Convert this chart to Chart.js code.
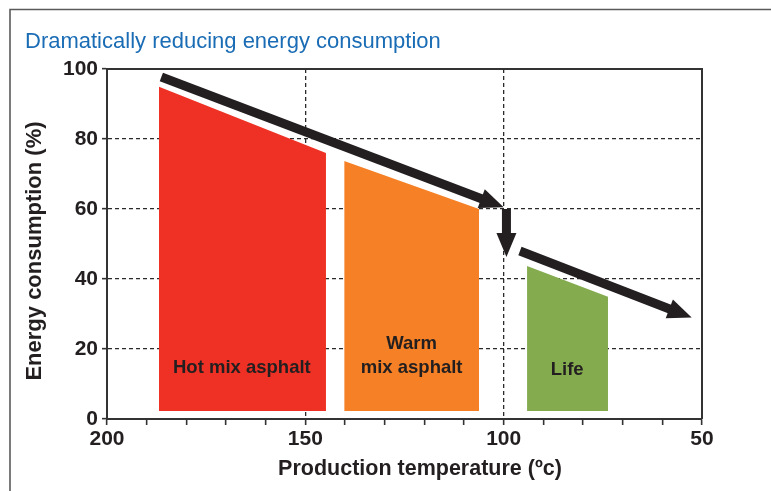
<!DOCTYPE html>
<html><head><meta charset="utf-8">
<script src="https://cdn.jsdelivr.net/npm/chart.js@4/dist/chart.umd.min.js"></script>
<style>html,body{margin:0;padding:0;background:#fff;overflow:hidden}canvas{display:block}</style>
</head><body><canvas id="c" width="771" height="491"></canvas>
<script>
// ---- data ----
const titleText = 'Dramatically reducing energy consumption';
const xTitle = 'Production temperature (ºc)';
const yTitle = 'Energy consumption (%)';
const xLabelTicks = [200, 150, 100, 50];
const categories = [['Hot mix asphalt'], ['Warm', 'mix asphalt'], ['Life']];
const hotMix = [{x: 186.9, y: 94.9}, {x: 144.8, y: 76}];
const warmMix = [{x: 140.2, y: 73.7}, {x: 106.2, y: 60}];
const life = [{x: 94.1, y: 43.7}, {x: 73.7, y: 34.9}];
const baseValue = 2.3;
const arrow1 = [{x: 186.3, y: 97.7}, {x: 100, y: 60.5}];
const arrow2 = [{x: 99.3, y: 60}, {x: 99.3, y: 46.3}];
const arrow3 = [{x: 95.9, y: 48}, {x: 52.6, y: 29}];
const labelPos = [{x: 166, y: 13.1}, {x: 123.2, y: 13.1}, {x: 84, y: 12.6}];
const seriesColors = ['#ee3124', '#f58025', '#84ac4f'];

const ink = '#231f20';
const FONT = '"Liberation Sans", Arial, Helvetica, sans-serif';

function drawArrow(ctx, x, y, pts) {
  const x0 = x.getPixelForValue(pts[0].x), y0 = y.getPixelForValue(pts[0].y);
  const x1 = x.getPixelForValue(pts[1].x), y1 = y.getPixelForValue(pts[1].y);
  const dx = x1 - x0, dy = y1 - y0, len = Math.hypot(dx, dy);
  const ux = dx / len, uy = dy / len, nx = -uy, ny = ux;
  const L = 24, W = 10, S = 4.5;
  const bx = x1 - ux * L, by = y1 - uy * L;
  ctx.fillStyle = ink;
  ctx.beginPath();
  ctx.moveTo(x0 + nx * S, y0 + ny * S);
  ctx.lineTo(bx + ux + nx * S, by + uy + ny * S);
  ctx.lineTo(bx + ux - nx * S, by + uy - ny * S);
  ctx.lineTo(x0 - nx * S, y0 - ny * S);
  ctx.closePath();
  ctx.fill();
  ctx.beginPath();
  ctx.moveTo(x1, y1);
  ctx.lineTo(bx + nx * W, by + ny * W);
  ctx.lineTo(bx - nx * W, by - ny * W);
  ctx.closePath();
  ctx.fill();
}

const deco = {
  id: 'deco',
  beforeDraw(chart) {
    const ctx = chart.ctx;
    ctx.save();
    ctx.fillStyle = '#fff';
    ctx.fillRect(0, 0, chart.width, chart.height);
    ctx.strokeStyle = '#5a5a5a';
    ctx.lineWidth = 1.6;
    ctx.beginPath();
    ctx.moveTo(10, 491); ctx.lineTo(10, 9.5); ctx.lineTo(771, 9.5);
    ctx.stroke();
    ctx.font = '22px ' + FONT;
    ctx.fillStyle = '#1a6cb5';
    ctx.textBaseline = 'alphabetic';
    ctx.textAlign = 'left';
    ctx.fillText(titleText, 25, 48);
    // axis titles
    ctx.fillStyle = ink;
    ctx.textAlign = 'center';
    ctx.font = 'bold 21.5px ' + FONT;
    ctx.fillText(xTitle, 420, 475);
    ctx.translate(35, 251);
    ctx.rotate(-Math.PI / 2);
    ctx.font = 'bold 22px ' + FONT;
    ctx.textBaseline = 'middle';
    ctx.fillText(yTitle, 0, 0);
    ctx.restore();
  },
  afterDatasetsDraw(chart) {
    const {ctx, chartArea: a, scales: {x, y}} = chart;
    ctx.save();
    ctx.strokeStyle = '#333';
    ctx.lineWidth = 2;
    ctx.beginPath();
    ctx.moveTo(a.left, a.top); ctx.lineTo(a.right, a.top); ctx.lineTo(a.right, a.bottom);
    ctx.stroke();
    ctx.font = 'bold 18.5px ' + FONT;
    ctx.fillStyle = ink;
    ctx.textAlign = 'center';
    ctx.textBaseline = 'alphabetic';
    categories.forEach((lines, i) => {
      const px = x.getPixelForValue(labelPos[i].x), py = y.getPixelForValue(labelPos[i].y);
      lines.forEach((t, j) => ctx.fillText(t, px, py - (lines.length - 1 - j) * 24));
    });
    [arrow1, arrow2, arrow3].forEach(p => drawArrow(ctx, x, y, p));
    ctx.restore();
  }
};

const polyDs = (data, color) => ({
  data, backgroundColor: color, borderColor: 'rgba(0,0,0,0)', borderWidth: 0,
  pointRadius: 0, fill: {value: baseValue}, tension: 0
});

new Chart(document.getElementById('c'), {
  type: 'line',
  data: {datasets: [polyDs(hotMix, seriesColors[0]), polyDs(warmMix, seriesColors[1]), polyDs(life, seriesColors[2])]},
  plugins: [deco],
  options: {
    responsive: false, animation: false, devicePixelRatio: 1,
    layout: {padding: {top: 69, right: 69, bottom: 0, left: 0}},
    plugins: {legend: {display: false}, tooltip: {enabled: false}, title: {display: false}},
    scales: {
      x: {
        type: 'linear', reverse: true, min: 50, max: 200,
        afterFit: s => { s.height = 72; },
        ticks: {stepSize: 10, autoSkip: false, maxRotation: 0, padding: 2, color: ink,
          font: {family: FONT, size: 21, weight: 'bold'},
          callback: v => xLabelTicks.includes(v) ? String(v) : ''},
        grid: {color: c => (c.tick && (c.tick.value === 150 || c.tick.value === 100)) ? '#2a2a2a' : 'rgba(0,0,0,0)',
          lineWidth: 1.3, tickColor: '#333', tickLength: 6, tickWidth: 1.6, tickBorderDash: []},
        border: {display: true, color: '#333', width: 2, dash: [4, 3]},
        title: {display: false, text: xTitle}
      },
      y: {
        min: 0, max: 100,
        afterFit: s => { s.width = 107; },
        ticks: {stepSize: 20, padding: 4, color: ink, font: {family: FONT, size: 21, weight: 'bold'}},
        grid: {color: c => (c.tick && c.tick.value > 0 && c.tick.value < 100) ? '#2a2a2a' : 'rgba(0,0,0,0)',
          lineWidth: 1.3, tickColor: '#333', tickLength: 5, tickWidth: 1.6, tickBorderDash: []},
        border: {display: true, color: '#333', width: 2, dash: [4, 3]},
        title: {display: false, text: yTitle}
      }
    }
  }
});
</script>
</body></html>
